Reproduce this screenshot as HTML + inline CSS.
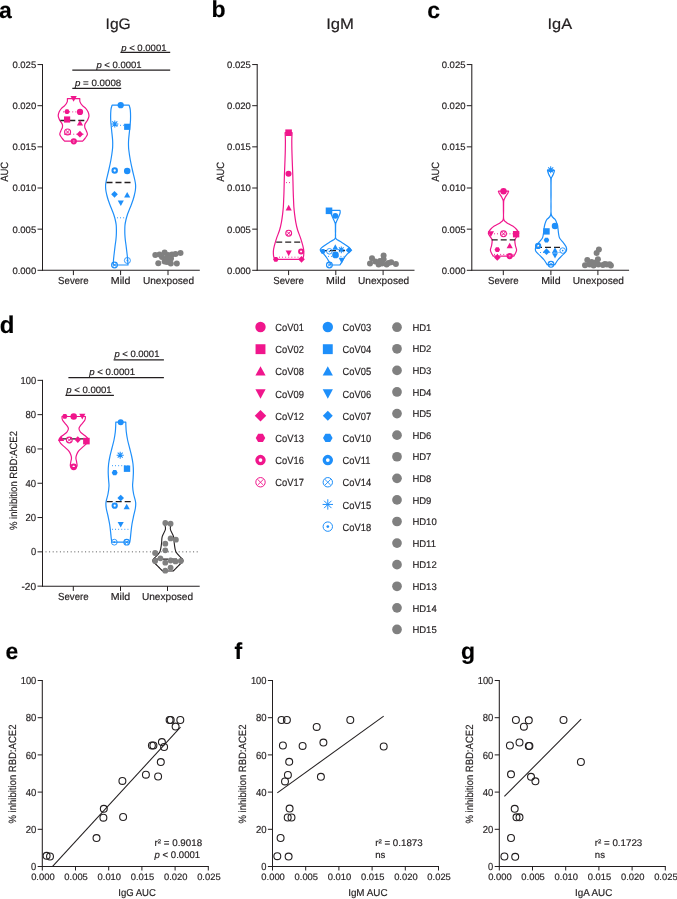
<!DOCTYPE html>
<html><head><meta charset="utf-8"><style>
html,body{margin:0;padding:0;background:#fff;}
body{width:677px;height:899px;overflow:hidden;}
svg{display:block;font-family:'Liberation Sans', sans-serif;text-rendering:geometricPrecision;will-change:transform;}
text{stroke:#231f20;stroke-width:0.18px;paint-order:stroke;}
</style></head><body>
<svg width="677" height="899" viewBox="0 0 677 899">
<rect width="677" height="899" fill="#fff"/>
<text x="-0.90" y="18.00" font-size="23" text-anchor="start" fill="#000" font-weight="bold" >a</text>
<text x="211.60" y="17.20" font-size="23" text-anchor="start" fill="#000" font-weight="bold" >b</text>
<text x="427.20" y="18.30" font-size="23" text-anchor="start" fill="#000" font-weight="bold" >c</text>
<text x="118.15" y="29.40" font-size="15.2" text-anchor="middle" fill="#231f20" textLength="25.20" lengthAdjust="spacingAndGlyphs" >IgG</text>
<text x="340.10" y="29.40" font-size="15.2" text-anchor="middle" fill="#231f20" textLength="27.80" lengthAdjust="spacingAndGlyphs" >IgM</text>
<text x="559.85" y="29.40" font-size="15.2" text-anchor="middle" fill="#231f20" textLength="24.60" lengthAdjust="spacingAndGlyphs" >IgA</text>
<line x1="42.50" y1="64.05" x2="42.50" y2="270.80" stroke="#231f20" stroke-width="1.05" stroke-linecap="butt"/>
<line x1="42.00" y1="270.30" x2="199.80" y2="270.30" stroke="#231f20" stroke-width="1.05" stroke-linecap="butt"/>
<line x1="37.50" y1="270.30" x2="42.50" y2="270.30" stroke="#231f20" stroke-width="1.0" stroke-linecap="butt"/>
<text x="36.20" y="273.70" font-size="9.4" text-anchor="end" fill="#231f20" textLength="23.80" lengthAdjust="spacingAndGlyphs" >0.000</text>
<line x1="37.50" y1="229.15" x2="42.50" y2="229.15" stroke="#231f20" stroke-width="1.0" stroke-linecap="butt"/>
<text x="36.20" y="232.55" font-size="9.4" text-anchor="end" fill="#231f20" textLength="23.80" lengthAdjust="spacingAndGlyphs" >0.005</text>
<line x1="37.50" y1="188.00" x2="42.50" y2="188.00" stroke="#231f20" stroke-width="1.0" stroke-linecap="butt"/>
<text x="36.20" y="191.40" font-size="9.4" text-anchor="end" fill="#231f20" textLength="23.80" lengthAdjust="spacingAndGlyphs" >0.010</text>
<line x1="37.50" y1="146.85" x2="42.50" y2="146.85" stroke="#231f20" stroke-width="1.0" stroke-linecap="butt"/>
<text x="36.20" y="150.25" font-size="9.4" text-anchor="end" fill="#231f20" textLength="23.80" lengthAdjust="spacingAndGlyphs" >0.015</text>
<line x1="37.50" y1="105.70" x2="42.50" y2="105.70" stroke="#231f20" stroke-width="1.0" stroke-linecap="butt"/>
<text x="36.20" y="109.10" font-size="9.4" text-anchor="end" fill="#231f20" textLength="23.80" lengthAdjust="spacingAndGlyphs" >0.020</text>
<line x1="37.50" y1="64.55" x2="42.50" y2="64.55" stroke="#231f20" stroke-width="1.0" stroke-linecap="butt"/>
<text x="36.20" y="67.95" font-size="9.4" text-anchor="end" fill="#231f20" textLength="23.80" lengthAdjust="spacingAndGlyphs" >0.025</text>
<line x1="73.40" y1="270.30" x2="73.40" y2="275.10" stroke="#231f20" stroke-width="1.0" stroke-linecap="butt"/>
<text x="73.40" y="284.10" font-size="10.2" text-anchor="middle" fill="#231f20" textLength="30.60" lengthAdjust="spacingAndGlyphs" >Severe</text>
<line x1="120.60" y1="270.30" x2="120.60" y2="275.10" stroke="#231f20" stroke-width="1.0" stroke-linecap="butt"/>
<text x="120.60" y="284.10" font-size="10.2" text-anchor="middle" fill="#231f20" textLength="19.50" lengthAdjust="spacingAndGlyphs" >Mild</text>
<line x1="168.00" y1="270.30" x2="168.00" y2="275.10" stroke="#231f20" stroke-width="1.0" stroke-linecap="butt"/>
<text x="168.50" y="284.10" font-size="10.2" text-anchor="middle" fill="#231f20" textLength="51.20" lengthAdjust="spacingAndGlyphs" >Unexposed</text>
<text x="8.50" y="171.80" font-size="10.5" text-anchor="middle" fill="#231f20" textLength="20.00" lengthAdjust="spacingAndGlyphs" transform="rotate(-90 8.50 171.80)" >AUC</text>
<line x1="257.20" y1="64.05" x2="257.20" y2="270.80" stroke="#231f20" stroke-width="1.05" stroke-linecap="butt"/>
<line x1="256.70" y1="270.30" x2="414.50" y2="270.30" stroke="#231f20" stroke-width="1.05" stroke-linecap="butt"/>
<line x1="252.20" y1="270.30" x2="257.20" y2="270.30" stroke="#231f20" stroke-width="1.0" stroke-linecap="butt"/>
<text x="250.90" y="273.70" font-size="9.4" text-anchor="end" fill="#231f20" textLength="23.80" lengthAdjust="spacingAndGlyphs" >0.000</text>
<line x1="252.20" y1="229.15" x2="257.20" y2="229.15" stroke="#231f20" stroke-width="1.0" stroke-linecap="butt"/>
<text x="250.90" y="232.55" font-size="9.4" text-anchor="end" fill="#231f20" textLength="23.80" lengthAdjust="spacingAndGlyphs" >0.005</text>
<line x1="252.20" y1="188.00" x2="257.20" y2="188.00" stroke="#231f20" stroke-width="1.0" stroke-linecap="butt"/>
<text x="250.90" y="191.40" font-size="9.4" text-anchor="end" fill="#231f20" textLength="23.80" lengthAdjust="spacingAndGlyphs" >0.010</text>
<line x1="252.20" y1="146.85" x2="257.20" y2="146.85" stroke="#231f20" stroke-width="1.0" stroke-linecap="butt"/>
<text x="250.90" y="150.25" font-size="9.4" text-anchor="end" fill="#231f20" textLength="23.80" lengthAdjust="spacingAndGlyphs" >0.015</text>
<line x1="252.20" y1="105.70" x2="257.20" y2="105.70" stroke="#231f20" stroke-width="1.0" stroke-linecap="butt"/>
<text x="250.90" y="109.10" font-size="9.4" text-anchor="end" fill="#231f20" textLength="23.80" lengthAdjust="spacingAndGlyphs" >0.020</text>
<line x1="252.20" y1="64.55" x2="257.20" y2="64.55" stroke="#231f20" stroke-width="1.0" stroke-linecap="butt"/>
<text x="250.90" y="67.95" font-size="9.4" text-anchor="end" fill="#231f20" textLength="23.80" lengthAdjust="spacingAndGlyphs" >0.025</text>
<line x1="288.60" y1="270.30" x2="288.60" y2="275.10" stroke="#231f20" stroke-width="1.0" stroke-linecap="butt"/>
<text x="288.60" y="284.10" font-size="10.2" text-anchor="middle" fill="#231f20" textLength="30.60" lengthAdjust="spacingAndGlyphs" >Severe</text>
<line x1="335.80" y1="270.30" x2="335.80" y2="275.10" stroke="#231f20" stroke-width="1.0" stroke-linecap="butt"/>
<text x="335.80" y="284.10" font-size="10.2" text-anchor="middle" fill="#231f20" textLength="19.50" lengthAdjust="spacingAndGlyphs" >Mild</text>
<line x1="383.10" y1="270.30" x2="383.10" y2="275.10" stroke="#231f20" stroke-width="1.0" stroke-linecap="butt"/>
<text x="383.60" y="284.10" font-size="10.2" text-anchor="middle" fill="#231f20" textLength="51.20" lengthAdjust="spacingAndGlyphs" >Unexposed</text>
<text x="223.70" y="171.80" font-size="10.5" text-anchor="middle" fill="#231f20" textLength="20.00" lengthAdjust="spacingAndGlyphs" transform="rotate(-90 223.70 171.80)" >AUC</text>
<line x1="471.80" y1="64.05" x2="471.80" y2="270.80" stroke="#231f20" stroke-width="1.05" stroke-linecap="butt"/>
<line x1="471.30" y1="270.30" x2="629.10" y2="270.30" stroke="#231f20" stroke-width="1.05" stroke-linecap="butt"/>
<line x1="466.80" y1="270.30" x2="471.80" y2="270.30" stroke="#231f20" stroke-width="1.0" stroke-linecap="butt"/>
<text x="465.50" y="273.70" font-size="9.4" text-anchor="end" fill="#231f20" textLength="23.80" lengthAdjust="spacingAndGlyphs" >0.000</text>
<line x1="466.80" y1="229.15" x2="471.80" y2="229.15" stroke="#231f20" stroke-width="1.0" stroke-linecap="butt"/>
<text x="465.50" y="232.55" font-size="9.4" text-anchor="end" fill="#231f20" textLength="23.80" lengthAdjust="spacingAndGlyphs" >0.005</text>
<line x1="466.80" y1="188.00" x2="471.80" y2="188.00" stroke="#231f20" stroke-width="1.0" stroke-linecap="butt"/>
<text x="465.50" y="191.40" font-size="9.4" text-anchor="end" fill="#231f20" textLength="23.80" lengthAdjust="spacingAndGlyphs" >0.010</text>
<line x1="466.80" y1="146.85" x2="471.80" y2="146.85" stroke="#231f20" stroke-width="1.0" stroke-linecap="butt"/>
<text x="465.50" y="150.25" font-size="9.4" text-anchor="end" fill="#231f20" textLength="23.80" lengthAdjust="spacingAndGlyphs" >0.015</text>
<line x1="466.80" y1="105.70" x2="471.80" y2="105.70" stroke="#231f20" stroke-width="1.0" stroke-linecap="butt"/>
<text x="465.50" y="109.10" font-size="9.4" text-anchor="end" fill="#231f20" textLength="23.80" lengthAdjust="spacingAndGlyphs" >0.020</text>
<line x1="466.80" y1="64.55" x2="471.80" y2="64.55" stroke="#231f20" stroke-width="1.0" stroke-linecap="butt"/>
<text x="465.50" y="67.95" font-size="9.4" text-anchor="end" fill="#231f20" textLength="23.80" lengthAdjust="spacingAndGlyphs" >0.025</text>
<line x1="503.30" y1="270.30" x2="503.30" y2="275.10" stroke="#231f20" stroke-width="1.0" stroke-linecap="butt"/>
<text x="503.30" y="284.10" font-size="10.2" text-anchor="middle" fill="#231f20" textLength="30.60" lengthAdjust="spacingAndGlyphs" >Severe</text>
<line x1="550.90" y1="270.30" x2="550.90" y2="275.10" stroke="#231f20" stroke-width="1.0" stroke-linecap="butt"/>
<text x="550.90" y="284.10" font-size="10.2" text-anchor="middle" fill="#231f20" textLength="19.50" lengthAdjust="spacingAndGlyphs" >Mild</text>
<line x1="597.90" y1="270.30" x2="597.90" y2="275.10" stroke="#231f20" stroke-width="1.0" stroke-linecap="butt"/>
<text x="598.40" y="284.10" font-size="10.2" text-anchor="middle" fill="#231f20" textLength="51.20" lengthAdjust="spacingAndGlyphs" >Unexposed</text>
<text x="438.80" y="171.80" font-size="10.5" text-anchor="middle" fill="#231f20" textLength="20.00" lengthAdjust="spacingAndGlyphs" transform="rotate(-90 438.80 171.80)" >AUC</text>
<line x1="120.40" y1="52.40" x2="170.20" y2="52.40" stroke="#231f20" stroke-width="1.2" stroke-linecap="butt"/>
<text x="121.20" y="50.50" font-size="9.3" fill="#231f20" textLength="45.30" lengthAdjust="spacingAndGlyphs"><tspan font-style="italic">p</tspan> &lt; 0.0001</text>
<line x1="72.30" y1="70.20" x2="170.20" y2="70.20" stroke="#231f20" stroke-width="1.2" stroke-linecap="butt"/>
<text x="96.40" y="67.90" font-size="9.3" fill="#231f20" textLength="45.20" lengthAdjust="spacingAndGlyphs"><tspan font-style="italic">p</tspan> &lt; 0.0001</text>
<line x1="72.30" y1="88.40" x2="121.20" y2="88.40" stroke="#231f20" stroke-width="1.2" stroke-linecap="butt"/>
<text x="75.00" y="85.75" font-size="9.3" fill="#231f20" textLength="46.20" lengthAdjust="spacingAndGlyphs"><tspan font-style="italic">p</tspan> = 0.0008</text>
<path d="M67.40 98.60L79.80 98.60C79.83 99.15 79.55 100.72 80.00 101.90C80.45 103.08 81.55 104.62 82.50 105.70C83.45 106.78 84.77 107.37 85.70 108.40C86.63 109.43 87.55 110.63 88.10 111.90C88.65 113.17 89.10 114.62 89.00 116.00C88.90 117.38 88.18 118.82 87.50 120.20C86.82 121.58 85.35 123.12 84.90 124.30C84.45 125.48 84.57 126.22 84.80 127.30C85.03 128.38 85.87 129.62 86.30 130.80C86.73 131.98 87.55 133.22 87.40 134.40C87.25 135.58 86.20 136.77 85.40 137.90C84.60 139.03 83.07 140.65 82.60 141.20L64.60 141.20C64.13 140.65 62.60 139.03 61.80 137.90C61.00 136.77 59.95 135.58 59.80 134.40C59.65 133.22 60.47 131.98 60.90 130.80C61.33 129.62 62.17 128.38 62.40 127.30C62.63 126.22 62.75 125.48 62.30 124.30C61.85 123.12 60.38 121.58 59.70 120.20C59.02 118.82 58.30 117.38 58.20 116.00C58.10 114.62 58.55 113.17 59.10 111.90C59.65 110.63 60.57 109.43 61.50 108.40C62.43 107.37 63.75 106.78 64.70 105.70C65.65 104.62 66.75 103.08 67.20 101.90C67.65 100.72 67.37 99.15 67.40 98.60Z" fill="none" stroke="#f0168c" stroke-width="1.2" stroke-linejoin="round"/>
<line x1="63.00" y1="111.90" x2="84.00" y2="111.90" stroke="#f0168c" stroke-width="1.0" stroke-dasharray="0.9 2.2" stroke-linecap="butt"/>
<line x1="64.00" y1="134.20" x2="84.00" y2="134.20" stroke="#f0168c" stroke-width="1.0" stroke-dasharray="0.9 2.2" stroke-linecap="butt"/>
<line x1="60.30" y1="120.50" x2="85.70" y2="120.50" stroke="#231f20" stroke-width="1.3" stroke-dasharray="6 3" stroke-linecap="butt"/>
<polygon points="73.60,101.81 76.78,95.98 70.42,95.98" fill="#f0168c"/>
<polygon points="64.32,111.70 65.66,109.37 68.34,109.37 69.68,111.70 68.34,114.03 65.66,114.03" fill="#f0168c"/>
<circle cx="80.00" cy="111.90" r="3.13" fill="#f0168c"/>
<rect x="64.02" y="116.42" width="6.16" height="6.16" fill="#f0168c"/>
<polygon points="80.00,119.90 83.07,125.54 76.93,125.54" fill="#f0168c"/>
<circle cx="67.60" cy="132.00" r="3.01" fill="none" stroke="#f0168c" stroke-width="1.10"/>
<path d="M65.73 130.13L69.47 133.87M69.47 130.13L65.73 133.87" stroke="#f0168c" stroke-width="0.99"/>
<polygon points="79.90,130.87 83.23,134.20 79.90,137.53 76.57,134.20" fill="#f0168c"/>
<circle cx="73.80" cy="141.30" r="2.13" fill="none" stroke="#f0168c" stroke-width="2.00"/>
<path d="M112.10 105.20L129.10 105.20C129.30 106.00 130.07 107.53 130.30 110.00C130.53 112.47 130.62 116.67 130.50 120.00C130.38 123.33 129.92 126.67 129.60 130.00C129.28 133.33 128.78 137.50 128.60 140.00C128.42 142.50 128.47 143.33 128.50 145.00C128.53 146.67 128.50 147.50 128.80 150.00C129.10 152.50 129.70 156.67 130.30 160.00C130.90 163.33 131.65 166.67 132.40 170.00C133.15 173.33 134.27 177.50 134.80 180.00C135.33 182.50 135.50 183.33 135.60 185.00C135.70 186.67 135.60 188.33 135.40 190.00C135.20 191.67 134.80 193.33 134.40 195.00C134.00 196.67 133.53 198.33 133.00 200.00C132.47 201.67 131.83 203.33 131.20 205.00C130.57 206.67 129.85 208.33 129.20 210.00C128.55 211.67 127.85 213.33 127.30 215.00C126.75 216.67 126.28 218.33 125.90 220.00C125.52 221.67 125.18 223.33 125.00 225.00C124.82 226.67 124.82 228.33 124.80 230.00C124.78 231.67 124.82 233.33 124.90 235.00C124.98 236.67 125.12 238.33 125.30 240.00C125.48 241.67 125.78 243.33 126.00 245.00C126.22 246.67 126.40 248.33 126.60 250.00C126.80 251.67 127.02 253.33 127.20 255.00C127.38 256.67 127.57 258.33 127.70 260.00C127.83 261.67 127.95 264.17 128.00 265.00L113.20 265.00C113.25 264.17 113.37 261.67 113.50 260.00C113.63 258.33 113.82 256.67 114.00 255.00C114.18 253.33 114.40 251.67 114.60 250.00C114.80 248.33 114.98 246.67 115.20 245.00C115.42 243.33 115.72 241.67 115.90 240.00C116.08 238.33 116.22 236.67 116.30 235.00C116.38 233.33 116.42 231.67 116.40 230.00C116.38 228.33 116.38 226.67 116.20 225.00C116.02 223.33 115.68 221.67 115.30 220.00C114.92 218.33 114.45 216.67 113.90 215.00C113.35 213.33 112.65 211.67 112.00 210.00C111.35 208.33 110.63 206.67 110.00 205.00C109.37 203.33 108.73 201.67 108.20 200.00C107.67 198.33 107.20 196.67 106.80 195.00C106.40 193.33 106.00 191.67 105.80 190.00C105.60 188.33 105.50 186.67 105.60 185.00C105.70 183.33 105.87 182.50 106.40 180.00C106.93 177.50 108.05 173.33 108.80 170.00C109.55 166.67 110.30 163.33 110.90 160.00C111.50 156.67 112.10 152.50 112.40 150.00C112.70 147.50 112.67 146.67 112.70 145.00C112.73 143.33 112.78 142.50 112.60 140.00C112.42 137.50 111.92 133.33 111.60 130.00C111.28 126.67 110.82 123.33 110.70 120.00C110.58 116.67 110.67 112.47 110.90 110.00C111.13 107.53 111.90 106.00 112.10 105.20Z" fill="none" stroke="#1e8ffa" stroke-width="1.2" stroke-linejoin="round"/>
<line x1="117.00" y1="125.30" x2="125.00" y2="125.30" stroke="#1e8ffa" stroke-width="1.0" stroke-dasharray="0.9 2.2" stroke-linecap="butt"/>
<line x1="117.00" y1="217.80" x2="126.00" y2="217.80" stroke="#1e8ffa" stroke-width="1.0" stroke-dasharray="0.9 2.2" stroke-linecap="butt"/>
<line x1="106.50" y1="182.50" x2="132.50" y2="182.50" stroke="#231f20" stroke-width="1.3" stroke-dasharray="6 3" stroke-linecap="butt"/>
<circle cx="120.70" cy="105.20" r="3.13" fill="#1e8ffa"/>
<path d="M111.24 124.00L118.36 124.00M112.28 121.48L117.32 126.52M114.80 120.44L114.80 127.56M117.32 121.48L112.28 126.52" stroke="#1e8ffa" stroke-width="1.05"/>
<rect x="124.12" y="123.72" width="6.16" height="6.16" fill="#1e8ffa"/>
<circle cx="114.70" cy="170.50" r="2.20" fill="none" stroke="#1e8ffa" stroke-width="2.07"/>
<circle cx="127.20" cy="171.00" r="3.24" fill="#1e8ffa"/>
<polygon points="114.50,190.97 117.83,194.30 114.50,197.63 111.17,194.30" fill="#1e8ffa"/>
<polygon points="127.20,191.90 130.27,197.54 124.13,197.54" fill="#1e8ffa"/>
<polygon points="120.80,206.10 123.87,200.46 117.73,200.46" fill="#1e8ffa"/>
<circle cx="114.50" cy="265.00" r="2.91" fill="none" stroke="#1e8ffa" stroke-width="1.10"/>
<path d="M112.70 263.20L116.30 266.80M116.30 263.20L112.70 266.80" stroke="#1e8ffa" stroke-width="0.99"/>
<circle cx="127.40" cy="260.50" r="3.01" fill="none" stroke="#1e8ffa" stroke-width="0.90"/>
<circle cx="127.40" cy="260.50" r="0.90" fill="#1e8ffa"/>
<circle cx="155.30" cy="255.00" r="3.00" fill="#808080"/>
<circle cx="159.50" cy="254.50" r="3.00" fill="#808080"/>
<circle cx="164.60" cy="252.50" r="3.00" fill="#808080"/>
<circle cx="168.00" cy="255.00" r="3.00" fill="#808080"/>
<circle cx="172.00" cy="254.50" r="3.00" fill="#808080"/>
<circle cx="175.50" cy="254.00" r="3.00" fill="#808080"/>
<circle cx="180.50" cy="253.00" r="3.00" fill="#808080"/>
<circle cx="162.00" cy="257.00" r="3.00" fill="#808080"/>
<circle cx="167.00" cy="258.00" r="3.00" fill="#808080"/>
<circle cx="171.00" cy="258.50" r="3.00" fill="#808080"/>
<circle cx="158.30" cy="263.30" r="3.00" fill="#808080"/>
<circle cx="164.60" cy="261.50" r="3.00" fill="#808080"/>
<circle cx="170.80" cy="263.50" r="3.00" fill="#808080"/>
<circle cx="176.80" cy="263.50" r="3.00" fill="#808080"/>
<circle cx="167.00" cy="262.00" r="3.00" fill="#808080"/>
<path d="M285.10 132.70L292.10 132.70C292.05 133.92 291.83 137.12 291.80 140.00C291.77 142.88 291.83 146.67 291.90 150.00C291.97 153.33 292.05 155.73 292.20 160.00C292.35 164.27 292.63 170.40 292.80 175.60C292.97 180.80 293.08 187.30 293.20 191.20C293.32 195.10 293.39 196.40 293.50 199.00C293.61 201.60 293.66 204.20 293.85 206.80C294.04 209.40 294.33 212.02 294.65 214.60C294.98 217.18 295.31 219.73 295.80 222.30C296.29 224.87 296.82 227.40 297.60 230.00C298.38 232.60 299.63 235.28 300.50 237.90C301.37 240.52 302.25 243.50 302.80 245.70C303.35 247.90 303.72 249.15 303.80 251.10C303.88 253.05 303.67 256.03 303.30 257.40C302.93 258.77 301.88 258.98 301.60 259.30L275.60 259.30C275.32 258.98 274.27 258.77 273.90 257.40C273.53 256.03 273.32 253.05 273.40 251.10C273.48 249.15 273.85 247.90 274.40 245.70C274.95 243.50 275.83 240.52 276.70 237.90C277.57 235.28 278.82 232.60 279.60 230.00C280.38 227.40 280.91 224.87 281.40 222.30C281.89 219.73 282.23 217.18 282.55 214.60C282.88 212.02 283.16 209.40 283.35 206.80C283.54 204.20 283.59 201.60 283.70 199.00C283.81 196.40 283.88 195.10 284.00 191.20C284.12 187.30 284.23 180.80 284.40 175.60C284.57 170.40 284.85 164.27 285.00 160.00C285.15 155.73 285.23 153.33 285.30 150.00C285.37 146.67 285.43 142.88 285.40 140.00C285.37 137.12 285.15 133.92 285.10 132.70Z" fill="none" stroke="#f0168c" stroke-width="1.2" stroke-linejoin="round"/>
<line x1="286.00" y1="182.60" x2="292.00" y2="182.60" stroke="#f0168c" stroke-width="1.0" stroke-dasharray="0.9 2.2" stroke-linecap="butt"/>
<line x1="279.00" y1="257.20" x2="299.00" y2="257.20" stroke="#f0168c" stroke-width="1.0" stroke-dasharray="0.9 2.2" stroke-linecap="butt"/>
<line x1="276.20" y1="242.20" x2="301.10" y2="242.20" stroke="#231f20" stroke-width="1.3" stroke-dasharray="6 3" stroke-linecap="butt"/>
<rect x="285.32" y="129.42" width="6.57" height="6.57" fill="#f0168c"/>
<circle cx="288.50" cy="173.80" r="3.02" fill="#f0168c"/>
<polygon points="288.70,204.80 291.77,210.44 285.63,210.44" fill="#f0168c"/>
<circle cx="288.70" cy="233.20" r="2.91" fill="none" stroke="#f0168c" stroke-width="1.10"/>
<path d="M286.90 231.40L290.50 235.00M290.50 231.40L286.90 235.00" stroke="#f0168c" stroke-width="0.99"/>
<polygon points="288.70,256.20 291.77,250.56 285.63,250.56" fill="#f0168c"/>
<circle cx="301.10" cy="251.50" r="2.06" fill="none" stroke="#f0168c" stroke-width="1.94"/>
<polygon points="273.02,259.30 274.41,256.88 277.19,256.88 278.58,259.30 277.19,261.72 274.41,261.72" fill="#f0168c"/>
<polygon points="301.50,255.97 304.83,259.30 301.50,262.63 298.17,259.30" fill="#f0168c"/>
<path d="M331.00 210.40L340.00 210.40C340.02 210.83 340.37 211.85 340.10 213.00C339.83 214.15 339.00 215.87 338.40 217.30C337.80 218.73 336.95 220.48 336.50 221.60C336.05 222.72 335.85 222.43 335.70 224.00C335.55 225.57 335.59 228.62 335.60 231.00C335.61 233.38 335.03 236.60 335.75 238.30C336.47 240.00 338.38 240.18 339.90 241.20C341.42 242.22 343.33 243.32 344.90 244.40C346.47 245.48 348.33 246.73 349.30 247.70C350.27 248.67 351.07 249.12 350.70 250.20C350.33 251.28 348.25 252.82 347.10 254.20C345.95 255.58 344.77 257.05 343.80 258.50C342.83 259.95 341.95 261.82 341.30 262.90C340.65 263.98 340.13 264.65 339.90 265.00L331.10 265.00C330.87 264.65 330.35 263.98 329.70 262.90C329.05 261.82 328.17 259.95 327.20 258.50C326.23 257.05 325.05 255.58 323.90 254.20C322.75 252.82 320.67 251.28 320.30 250.20C319.93 249.12 320.73 248.67 321.70 247.70C322.67 246.73 324.53 245.48 326.10 244.40C327.67 243.32 329.58 242.22 331.10 241.20C332.62 240.18 334.53 240.00 335.25 238.30C335.97 236.60 335.39 233.38 335.40 231.00C335.41 228.62 335.45 225.57 335.30 224.00C335.15 222.43 334.95 222.72 334.50 221.60C334.05 220.48 333.20 218.73 332.60 217.30C332.00 215.87 331.17 214.15 330.90 213.00C330.63 211.85 330.98 210.83 331.00 210.40Z" fill="none" stroke="#1e8ffa" stroke-width="1.2" stroke-linejoin="round"/>
<line x1="325.00" y1="256.40" x2="346.00" y2="256.40" stroke="#1e8ffa" stroke-width="1.0" stroke-dasharray="0.9 2.2" stroke-linecap="butt"/>
<line x1="321.00" y1="250.60" x2="349.00" y2="250.60" stroke="#231f20" stroke-width="1.3" stroke-dasharray="6 3" stroke-linecap="butt"/>
<rect x="325.72" y="207.52" width="6.57" height="6.57" fill="#1e8ffa"/>
<circle cx="335.30" cy="215.80" r="2.92" fill="#1e8ffa"/>
<polygon points="320.22,251.30 321.56,248.97 324.24,248.97 325.58,251.30 324.24,253.63 321.56,253.63" fill="#1e8ffa"/>
<circle cx="329.40" cy="251.30" r="2.79" fill="none" stroke="#1e8ffa" stroke-width="0.90"/>
<circle cx="329.40" cy="251.30" r="0.84" fill="#1e8ffa"/>
<polygon points="335.30,244.31 338.26,249.75 332.34,249.75" fill="#1e8ffa"/>
<path d="M337.97 249.80L344.63 249.80M338.95 247.45L343.65 252.15M341.30 246.47L341.30 253.13M343.65 247.45L338.95 252.15" stroke="#1e8ffa" stroke-width="1.05"/>
<polygon points="349.00,246.87 352.33,250.20 349.00,253.53 345.67,250.20" fill="#1e8ffa"/>
<circle cx="335.50" cy="254.90" r="3.35" fill="#1e8ffa"/>
<polygon points="341.70,263.40 344.77,257.76 338.63,257.76" fill="#1e8ffa"/>
<circle cx="329.40" cy="265.00" r="2.91" fill="none" stroke="#1e8ffa" stroke-width="1.10"/>
<path d="M327.60 263.20L331.20 266.80M331.20 263.20L327.60 266.80" stroke="#1e8ffa" stroke-width="0.99"/>
<circle cx="372.00" cy="258.30" r="3.00" fill="#808080"/>
<circle cx="383.60" cy="255.60" r="3.00" fill="#808080"/>
<circle cx="383.60" cy="259.30" r="3.00" fill="#808080"/>
<circle cx="370.00" cy="263.60" r="3.00" fill="#808080"/>
<circle cx="375.30" cy="261.60" r="3.00" fill="#808080"/>
<circle cx="378.60" cy="264.60" r="3.00" fill="#808080"/>
<circle cx="382.00" cy="263.60" r="3.00" fill="#808080"/>
<circle cx="386.60" cy="264.60" r="3.00" fill="#808080"/>
<circle cx="391.20" cy="262.30" r="3.00" fill="#808080"/>
<circle cx="395.90" cy="264.00" r="3.00" fill="#808080"/>
<circle cx="380.00" cy="261.00" r="3.00" fill="#808080"/>
<circle cx="388.50" cy="263.00" r="3.00" fill="#808080"/>
<path d="M498.40 191.20L508.60 191.20C508.45 191.58 508.15 192.68 507.70 193.50C507.25 194.32 506.43 195.22 505.90 196.10C505.37 196.98 504.87 197.93 504.50 198.80C504.13 199.67 503.85 199.43 503.70 201.30C503.55 203.17 503.59 207.00 503.60 210.00C503.61 213.00 503.23 217.18 503.75 219.30C504.27 221.42 505.21 221.57 506.70 222.70C508.19 223.83 511.05 224.97 512.70 226.10C514.35 227.23 515.60 228.35 516.60 229.50C517.60 230.65 518.63 231.85 518.70 233.00C518.77 234.15 517.63 235.27 517.00 236.40C516.37 237.53 515.18 238.37 514.90 239.80C514.62 241.23 515.02 243.28 515.30 245.00C515.58 246.72 516.60 248.68 516.60 250.10C516.60 251.52 515.77 252.50 515.30 253.50C514.83 254.50 514.05 255.67 513.80 256.10L493.20 256.10C492.95 255.67 492.17 254.50 491.70 253.50C491.23 252.50 490.40 251.52 490.40 250.10C490.40 248.68 491.42 246.72 491.70 245.00C491.98 243.28 492.38 241.23 492.10 239.80C491.82 238.37 490.63 237.53 490.00 236.40C489.37 235.27 488.23 234.15 488.30 233.00C488.37 231.85 489.40 230.65 490.40 229.50C491.40 228.35 492.65 227.23 494.30 226.10C495.95 224.97 498.81 223.83 500.30 222.70C501.79 221.57 502.73 221.42 503.25 219.30C503.77 217.18 503.39 213.00 503.40 210.00C503.41 207.00 503.45 203.17 503.30 201.30C503.15 199.43 502.87 199.67 502.50 198.80C502.13 197.93 501.63 196.98 501.10 196.10C500.57 195.22 499.75 194.32 499.30 193.50C498.85 192.68 498.55 191.58 498.40 191.20Z" fill="none" stroke="#f0168c" stroke-width="1.2" stroke-linejoin="round"/>
<line x1="494.00" y1="233.80" x2="514.00" y2="233.80" stroke="#f0168c" stroke-width="1.0" stroke-dasharray="0.9 2.2" stroke-linecap="butt"/>
<line x1="494.00" y1="254.40" x2="514.00" y2="254.40" stroke="#f0168c" stroke-width="1.0" stroke-dasharray="0.9 2.2" stroke-linecap="butt"/>
<line x1="491.70" y1="239.80" x2="515.30" y2="239.80" stroke="#231f20" stroke-width="1.3" stroke-dasharray="6 3" stroke-linecap="butt"/>
<circle cx="503.50" cy="191.20" r="3.24" fill="#f0168c"/>
<polygon points="490.90,236.90 493.97,231.26 487.83,231.26" fill="#f0168c"/>
<circle cx="503.50" cy="233.80" r="2.91" fill="none" stroke="#f0168c" stroke-width="1.10"/>
<path d="M501.70 232.00L505.30 235.60M505.30 232.00L501.70 235.60" stroke="#f0168c" stroke-width="0.99"/>
<rect x="512.92" y="231.02" width="6.36" height="6.36" fill="#f0168c"/>
<polygon points="509.70,242.70 512.77,248.34 506.63,248.34" fill="#f0168c"/>
<polygon points="494.52,249.70 495.91,247.28 498.69,247.28 500.08,249.70 498.69,252.12 495.91,252.12" fill="#f0168c"/>
<circle cx="509.70" cy="256.10" r="2.13" fill="none" stroke="#f0168c" stroke-width="2.00"/>
<polygon points="497.30,254.07 500.63,257.40 497.30,260.73 493.97,257.40" fill="#f0168c"/>
<path d="M547.50 170.50L554.50 170.50C554.35 171.00 553.98 172.50 553.60 173.50C553.22 174.50 552.60 175.52 552.20 176.50C551.80 177.48 551.38 176.32 551.20 179.40C551.02 182.48 551.09 189.17 551.10 195.00C551.11 200.83 550.57 210.32 551.25 214.40C551.93 218.48 554.24 217.93 555.20 219.50C556.16 221.07 556.55 222.37 557.00 223.80C557.45 225.23 557.63 226.42 557.90 228.10C558.17 229.78 558.30 232.20 558.60 233.90C558.90 235.60 558.92 236.85 559.70 238.30C560.48 239.75 562.22 241.15 563.30 242.60C564.38 244.05 565.72 245.55 566.20 247.00C566.68 248.45 566.90 249.87 566.20 251.30C565.50 252.73 563.40 254.15 562.00 255.60C560.60 257.05 558.98 258.48 557.80 260.00C556.62 261.52 555.38 263.92 554.90 264.70L547.10 264.70C546.62 263.92 545.38 261.52 544.20 260.00C543.02 258.48 541.40 257.05 540.00 255.60C538.60 254.15 536.50 252.73 535.80 251.30C535.10 249.87 535.32 248.45 535.80 247.00C536.28 245.55 537.62 244.05 538.70 242.60C539.78 241.15 541.52 239.75 542.30 238.30C543.08 236.85 543.10 235.60 543.40 233.90C543.70 232.20 543.83 229.78 544.10 228.10C544.37 226.42 544.55 225.23 545.00 223.80C545.45 222.37 545.84 221.07 546.80 219.50C547.76 217.93 550.07 218.48 550.75 214.40C551.43 210.32 550.89 200.83 550.90 195.00C550.91 189.17 550.98 182.48 550.80 179.40C550.62 176.32 550.20 177.48 549.80 176.50C549.40 175.52 548.78 174.50 548.40 173.50C548.02 172.50 547.65 171.00 547.50 170.50Z" fill="none" stroke="#1e8ffa" stroke-width="1.2" stroke-linejoin="round"/>
<line x1="536.00" y1="247.30" x2="563.00" y2="247.30" stroke="#231f20" stroke-width="1.3" stroke-dasharray="6 3" stroke-linecap="butt"/>
<line x1="540.00" y1="252.50" x2="562.00" y2="252.50" stroke="#1e8ffa" stroke-width="1.0" stroke-dasharray="0.9 2.2" stroke-linecap="butt"/>
<path d="M547.14 169.80L554.26 169.80M548.18 167.28L553.22 172.32M550.70 166.24L550.70 173.36M553.22 167.28L548.18 172.32" stroke="#1e8ffa" stroke-width="1.05"/>
<circle cx="555.00" cy="226.00" r="3.24" fill="#1e8ffa"/>
<rect x="543.32" y="228.22" width="6.36" height="6.36" fill="#1e8ffa"/>
<polygon points="543.72,240.10 545.11,237.68 547.89,237.68 549.28,240.10 547.89,242.52 545.11,242.52" fill="#1e8ffa"/>
<circle cx="538.10" cy="245.90" r="2.13" fill="none" stroke="#1e8ffa" stroke-width="2.00"/>
<polygon points="546.50,248.37 549.83,251.70 546.50,255.03 543.17,251.70" fill="#1e8ffa"/>
<polygon points="555.00,247.31 557.96,252.75 552.04,252.75" fill="#1e8ffa"/>
<polygon points="555.00,258.59 557.96,253.15 552.04,253.15" fill="#1e8ffa"/>
<circle cx="562.70" cy="250.60" r="2.79" fill="none" stroke="#1e8ffa" stroke-width="0.90"/>
<circle cx="562.70" cy="250.60" r="0.84" fill="#1e8ffa"/>
<circle cx="551.00" cy="264.30" r="2.91" fill="none" stroke="#1e8ffa" stroke-width="1.10"/>
<path d="M549.20 262.50L552.80 266.10M552.80 262.50L549.20 266.10" stroke="#1e8ffa" stroke-width="0.99"/>
<circle cx="598.90" cy="249.60" r="3.00" fill="#808080"/>
<circle cx="596.60" cy="253.00" r="3.00" fill="#808080"/>
<circle cx="597.90" cy="259.30" r="3.00" fill="#808080"/>
<circle cx="587.30" cy="260.00" r="3.00" fill="#808080"/>
<circle cx="585.00" cy="265.30" r="3.00" fill="#808080"/>
<circle cx="589.60" cy="264.60" r="3.00" fill="#808080"/>
<circle cx="593.60" cy="265.60" r="3.00" fill="#808080"/>
<circle cx="598.30" cy="264.60" r="3.00" fill="#808080"/>
<circle cx="602.90" cy="264.90" r="3.00" fill="#808080"/>
<circle cx="606.90" cy="264.60" r="3.00" fill="#808080"/>
<circle cx="610.90" cy="265.60" r="3.00" fill="#808080"/>
<circle cx="595.60" cy="262.60" r="3.00" fill="#808080"/>
<circle cx="591.60" cy="262.00" r="3.00" fill="#808080"/>
<circle cx="604.90" cy="264.00" r="3.00" fill="#808080"/>
<circle cx="609.60" cy="264.30" r="3.00" fill="#808080"/>
<text x="-0.20" y="333.00" font-size="24" text-anchor="start" fill="#000" font-weight="bold" >d</text>
<line x1="42.50" y1="379.85" x2="42.50" y2="586.65" stroke="#231f20" stroke-width="1.05" stroke-linecap="butt"/>
<line x1="42.00" y1="586.15" x2="199.70" y2="586.15" stroke="#231f20" stroke-width="1.05" stroke-linecap="butt"/>
<line x1="37.50" y1="380.35" x2="42.50" y2="380.35" stroke="#231f20" stroke-width="1.0" stroke-linecap="butt"/>
<text x="36.10" y="383.95" font-size="10.2" text-anchor="end" fill="#231f20" textLength="15.60" lengthAdjust="spacingAndGlyphs" >100</text>
<line x1="37.50" y1="414.65" x2="42.50" y2="414.65" stroke="#231f20" stroke-width="1.0" stroke-linecap="butt"/>
<text x="36.10" y="418.25" font-size="10.2" text-anchor="end" fill="#231f20" textLength="10.60" lengthAdjust="spacingAndGlyphs" >80</text>
<line x1="37.50" y1="448.95" x2="42.50" y2="448.95" stroke="#231f20" stroke-width="1.0" stroke-linecap="butt"/>
<text x="36.10" y="452.55" font-size="10.2" text-anchor="end" fill="#231f20" textLength="10.60" lengthAdjust="spacingAndGlyphs" >60</text>
<line x1="37.50" y1="483.25" x2="42.50" y2="483.25" stroke="#231f20" stroke-width="1.0" stroke-linecap="butt"/>
<text x="36.10" y="486.85" font-size="10.2" text-anchor="end" fill="#231f20" textLength="10.60" lengthAdjust="spacingAndGlyphs" >40</text>
<line x1="37.50" y1="517.55" x2="42.50" y2="517.55" stroke="#231f20" stroke-width="1.0" stroke-linecap="butt"/>
<text x="36.10" y="521.15" font-size="10.2" text-anchor="end" fill="#231f20" textLength="10.60" lengthAdjust="spacingAndGlyphs" >20</text>
<line x1="37.50" y1="551.85" x2="42.50" y2="551.85" stroke="#231f20" stroke-width="1.0" stroke-linecap="butt"/>
<text x="36.10" y="555.45" font-size="10.2" text-anchor="end" fill="#231f20" textLength="5.20" lengthAdjust="spacingAndGlyphs" >0</text>
<line x1="37.50" y1="586.15" x2="42.50" y2="586.15" stroke="#231f20" stroke-width="1.0" stroke-linecap="butt"/>
<text x="36.10" y="589.75" font-size="10.2" text-anchor="end" fill="#231f20" textLength="14.60" lengthAdjust="spacingAndGlyphs" >-20</text>
<line x1="45.50" y1="551.85" x2="198.00" y2="551.85" stroke="#555" stroke-width="1.0" stroke-dasharray="1 2.6" stroke-linecap="butt"/>
<line x1="73.30" y1="586.15" x2="73.30" y2="590.95" stroke="#231f20" stroke-width="1.0" stroke-linecap="butt"/>
<text x="73.30" y="599.50" font-size="10.2" text-anchor="middle" fill="#231f20" textLength="30.60" lengthAdjust="spacingAndGlyphs" >Severe</text>
<line x1="120.50" y1="586.15" x2="120.50" y2="590.95" stroke="#231f20" stroke-width="1.0" stroke-linecap="butt"/>
<text x="120.50" y="599.50" font-size="10.2" text-anchor="middle" fill="#231f20" textLength="19.50" lengthAdjust="spacingAndGlyphs" >Mild</text>
<line x1="167.50" y1="586.15" x2="167.50" y2="590.95" stroke="#231f20" stroke-width="1.0" stroke-linecap="butt"/>
<text x="167.50" y="599.50" font-size="10.2" text-anchor="middle" fill="#231f20" textLength="51.20" lengthAdjust="spacingAndGlyphs" >Unexposed</text>
<text x="16.90" y="480.50" font-size="10.5" text-anchor="middle" fill="#231f20" textLength="99.00" lengthAdjust="spacingAndGlyphs" transform="rotate(-90 16.90 480.50)" >% inhibition RBD:ACE2</text>
<line x1="113.60" y1="359.90" x2="163.90" y2="359.90" stroke="#231f20" stroke-width="1.2" stroke-linecap="butt"/>
<text x="114.40" y="357.40" font-size="9.3" fill="#231f20" textLength="45.00" lengthAdjust="spacingAndGlyphs"><tspan font-style="italic">p</tspan> &lt; 0.0001</text>
<line x1="68.40" y1="377.70" x2="163.90" y2="377.70" stroke="#231f20" stroke-width="1.2" stroke-linecap="butt"/>
<text x="89.20" y="374.80" font-size="9.3" fill="#231f20" textLength="45.90" lengthAdjust="spacingAndGlyphs"><tspan font-style="italic">p</tspan> &lt; 0.0001</text>
<line x1="65.40" y1="395.40" x2="113.90" y2="395.40" stroke="#231f20" stroke-width="1.2" stroke-linecap="butt"/>
<text x="66.20" y="392.70" font-size="9.3" fill="#231f20" textLength="45.50" lengthAdjust="spacingAndGlyphs"><tspan font-style="italic">p</tspan> &lt; 0.0001</text>
<path d="M62.00 416.50L85.40 416.50C85.32 417.08 85.60 418.63 84.90 420.00C84.20 421.37 82.18 423.30 81.20 424.70C80.22 426.10 79.12 427.17 79.00 428.40C78.88 429.63 79.48 430.87 80.50 432.10C81.52 433.33 83.78 434.57 85.10 435.80C86.42 437.03 88.10 438.27 88.40 439.50C88.70 440.73 87.82 441.97 86.90 443.20C85.98 444.43 84.23 445.65 82.90 446.90C81.57 448.15 79.93 449.45 78.90 450.70C77.87 451.95 77.20 453.17 76.70 454.40C76.20 455.63 75.92 456.87 75.90 458.10C75.88 459.33 76.40 460.57 76.60 461.80C76.80 463.03 77.15 464.55 77.10 465.50C77.05 466.45 76.43 467.17 76.30 467.50L71.10 467.50C70.97 467.17 70.35 466.45 70.30 465.50C70.25 464.55 70.60 463.03 70.80 461.80C71.00 460.57 71.52 459.33 71.50 458.10C71.48 456.87 71.20 455.63 70.70 454.40C70.20 453.17 69.53 451.95 68.50 450.70C67.47 449.45 65.83 448.15 64.50 446.90C63.17 445.65 61.42 444.43 60.50 443.20C59.58 441.97 58.70 440.73 59.00 439.50C59.30 438.27 60.98 437.03 62.30 435.80C63.62 434.57 65.88 433.33 66.90 432.10C67.92 430.87 68.52 429.63 68.40 428.40C68.28 427.17 67.18 426.10 66.20 424.70C65.22 423.30 63.20 421.37 62.50 420.00C61.80 418.63 62.08 417.08 62.00 416.50Z" fill="none" stroke="#f0168c" stroke-width="1.2" stroke-linejoin="round"/>
<line x1="61.00" y1="438.90" x2="87.00" y2="438.90" stroke="#231f20" stroke-width="1.3" stroke-dasharray="6 3" stroke-linecap="butt"/>
<polygon points="62.02,416.30 63.41,413.88 66.19,413.88 67.58,416.30 66.19,418.72 63.41,418.72" fill="#f0168c"/>
<circle cx="73.70" cy="416.50" r="3.24" fill="#f0168c"/>
<polygon points="82.30,419.40 85.37,413.76 79.23,413.76" fill="#f0168c"/>
<polygon points="61.10,435.40 64.17,441.04 58.03,441.04" fill="#f0168c"/>
<circle cx="69.30" cy="440.00" r="2.91" fill="none" stroke="#f0168c" stroke-width="1.10"/>
<path d="M67.50 438.20L71.10 441.80M71.10 438.20L67.50 441.80" stroke="#f0168c" stroke-width="0.99"/>
<polygon points="77.80,436.27 81.13,439.60 77.80,442.93 74.47,439.60" fill="#f0168c"/>
<rect x="83.12" y="437.82" width="6.57" height="6.57" fill="#f0168c"/>
<circle cx="73.70" cy="466.80" r="2.28" fill="none" stroke="#f0168c" stroke-width="2.14"/>
<path d="M115.80 422.20L125.80 422.20C125.82 422.83 125.82 424.37 125.90 426.00C125.98 427.63 126.02 429.67 126.30 432.00C126.58 434.33 127.05 437.33 127.60 440.00C128.15 442.67 128.93 445.33 129.60 448.00C130.27 450.67 131.03 453.33 131.60 456.00C132.17 458.67 132.70 461.33 133.00 464.00C133.30 466.67 133.40 469.33 133.40 472.00C133.40 474.67 133.13 477.67 133.00 480.00C132.87 482.33 132.50 483.67 132.60 486.00C132.70 488.33 133.10 491.33 133.60 494.00C134.10 496.67 135.30 499.67 135.60 502.00C135.90 504.33 135.73 505.67 135.40 508.00C135.07 510.33 134.17 513.33 133.60 516.00C133.03 518.67 132.43 521.33 132.00 524.00C131.57 526.67 131.27 529.67 131.00 532.00C130.73 534.33 130.60 536.30 130.40 538.00C130.20 539.70 129.90 541.50 129.80 542.20L111.80 542.20C111.70 541.50 111.40 539.70 111.20 538.00C111.00 536.30 110.87 534.33 110.60 532.00C110.33 529.67 110.03 526.67 109.60 524.00C109.17 521.33 108.57 518.67 108.00 516.00C107.43 513.33 106.53 510.33 106.20 508.00C105.87 505.67 105.70 504.33 106.00 502.00C106.30 499.67 107.50 496.67 108.00 494.00C108.50 491.33 108.90 488.33 109.00 486.00C109.10 483.67 108.73 482.33 108.60 480.00C108.47 477.67 108.20 474.67 108.20 472.00C108.20 469.33 108.30 466.67 108.60 464.00C108.90 461.33 109.43 458.67 110.00 456.00C110.57 453.33 111.33 450.67 112.00 448.00C112.67 445.33 113.45 442.67 114.00 440.00C114.55 437.33 115.02 434.33 115.30 432.00C115.58 429.67 115.62 427.63 115.70 426.00C115.78 424.37 115.78 422.83 115.80 422.20Z" fill="none" stroke="#1e8ffa" stroke-width="1.2" stroke-linejoin="round"/>
<line x1="112.00" y1="465.70" x2="130.00" y2="465.70" stroke="#1e8ffa" stroke-width="1.0" stroke-dasharray="0.9 2.2" stroke-linecap="butt"/>
<line x1="112.00" y1="529.30" x2="130.00" y2="529.30" stroke="#1e8ffa" stroke-width="1.0" stroke-dasharray="0.9 2.2" stroke-linecap="butt"/>
<line x1="106.70" y1="501.70" x2="131.80" y2="501.70" stroke="#231f20" stroke-width="1.3" stroke-dasharray="6 3" stroke-linecap="butt"/>
<circle cx="120.70" cy="422.20" r="3.02" fill="#1e8ffa"/>
<path d="M116.64 455.20L123.76 455.20M117.68 452.68L122.72 457.72M120.20 451.64L120.20 458.76M122.72 452.68L117.68 457.72" stroke="#1e8ffa" stroke-width="1.05"/>
<rect x="123.82" y="465.52" width="6.36" height="6.36" fill="#1e8ffa"/>
<polygon points="111.72,472.70 113.21,470.11 116.19,470.11 117.68,472.70 116.19,475.29 113.21,475.29" fill="#1e8ffa"/>
<polygon points="120.70,494.67 124.03,498.00 120.70,501.33 117.37,498.00" fill="#1e8ffa"/>
<circle cx="114.70" cy="505.70" r="2.13" fill="none" stroke="#1e8ffa" stroke-width="2.00"/>
<polygon points="126.70,503.70 129.77,509.34 123.63,509.34" fill="#1e8ffa"/>
<polygon points="120.70,527.60 123.77,521.96 117.63,521.96" fill="#1e8ffa"/>
<circle cx="114.30" cy="542.20" r="2.90" fill="none" stroke="#1e8ffa" stroke-width="0.90"/>
<circle cx="114.30" cy="542.20" r="0.87" fill="#1e8ffa"/>
<circle cx="126.70" cy="542.20" r="2.80" fill="none" stroke="#1e8ffa" stroke-width="1.10"/>
<path d="M124.97 540.47L128.43 543.93M128.43 540.47L124.97 543.93" stroke="#1e8ffa" stroke-width="0.99"/>
<path d="M164.30 523.70L171.50 523.70C171.30 524.58 169.95 526.85 170.30 529.00C170.65 531.15 172.93 534.15 173.60 536.60C174.27 539.05 173.92 541.18 174.30 543.70C174.68 546.22 174.75 549.33 175.90 551.70C177.05 554.07 180.00 556.35 181.20 557.90C182.40 559.45 183.27 559.98 183.10 561.00C182.93 562.02 181.27 562.92 180.20 564.00C179.13 565.08 177.87 566.33 176.70 567.50C175.53 568.67 173.78 570.42 173.20 571.00L162.60 571.00C162.02 570.42 160.27 568.67 159.10 567.50C157.93 566.33 156.67 565.08 155.60 564.00C154.53 562.92 152.87 562.02 152.70 561.00C152.53 559.98 153.40 559.45 154.60 557.90C155.80 556.35 158.75 554.07 159.90 551.70C161.05 549.33 161.12 546.22 161.50 543.70C161.88 541.18 161.53 539.05 162.20 536.60C162.87 534.15 165.15 531.15 165.50 529.00C165.85 526.85 164.50 524.58 164.30 523.70Z" fill="none" stroke="#231f20" stroke-width="1.1" stroke-linejoin="round"/>
<line x1="153.00" y1="559.20" x2="183.00" y2="559.20" stroke="#231f20" stroke-width="1.3" stroke-dasharray="6 3" stroke-linecap="butt"/>
<circle cx="165.30" cy="522.90" r="2.90" fill="#808080"/>
<circle cx="170.60" cy="523.70" r="2.90" fill="#808080"/>
<circle cx="170.60" cy="538.40" r="2.90" fill="#808080"/>
<circle cx="175.90" cy="539.70" r="2.90" fill="#808080"/>
<circle cx="165.30" cy="543.70" r="2.90" fill="#808080"/>
<circle cx="165.30" cy="550.30" r="2.90" fill="#808080"/>
<circle cx="155.10" cy="553.00" r="2.90" fill="#808080"/>
<circle cx="155.10" cy="561.00" r="2.90" fill="#808080"/>
<circle cx="160.40" cy="558.30" r="2.90" fill="#808080"/>
<circle cx="165.30" cy="562.70" r="2.90" fill="#808080"/>
<circle cx="170.60" cy="560.50" r="2.90" fill="#808080"/>
<circle cx="175.50" cy="561.40" r="2.90" fill="#808080"/>
<circle cx="180.80" cy="561.00" r="2.90" fill="#808080"/>
<circle cx="170.60" cy="567.60" r="2.90" fill="#808080"/>
<circle cx="165.30" cy="570.70" r="2.90" fill="#808080"/>
<circle cx="260.50" cy="327.00" r="5.20" fill="#f0168c"/>
<text transform="translate(275.30 331.10) scale(0.9 1)" font-size="10.4" fill="#231f20">CoV01</text>
<rect x="255.56" y="344.24" width="9.88" height="9.88" fill="#f0168c"/>
<text transform="translate(275.30 353.28) scale(0.9 1)" font-size="10.4" fill="#231f20">CoV02</text>
<polygon points="260.50,366.21 265.60,375.57 255.40,375.57" fill="#f0168c"/>
<text transform="translate(275.30 375.46) scale(0.9 1)" font-size="10.4" fill="#231f20">CoV08</text>
<polygon points="260.50,398.69 265.60,389.33 255.40,389.33" fill="#f0168c"/>
<text transform="translate(275.30 397.64) scale(0.9 1)" font-size="10.4" fill="#231f20">CoV09</text>
<polygon points="260.50,410.00 266.22,415.72 260.50,421.44 254.78,415.72" fill="#f0168c"/>
<text transform="translate(275.30 419.82) scale(0.9 1)" font-size="10.4" fill="#231f20">CoV12</text>
<polygon points="255.72,437.90 258.11,433.74 262.89,433.74 265.28,437.90 262.89,442.06 258.11,442.06" fill="#f0168c"/>
<text transform="translate(275.30 442.00) scale(0.9 1)" font-size="10.4" fill="#231f20">CoV13</text>
<circle cx="260.50" cy="460.08" r="3.54" fill="none" stroke="#f0168c" stroke-width="3.33"/>
<text transform="translate(275.30 464.18) scale(0.9 1)" font-size="10.4" fill="#231f20">CoV16</text>
<circle cx="260.50" cy="482.26" r="4.70" fill="none" stroke="#f0168c" stroke-width="1.00"/>
<path d="M257.59 479.35L263.41 485.17M263.41 479.35L257.59 485.17" stroke="#f0168c" stroke-width="0.90"/>
<text transform="translate(275.30 486.36) scale(0.9 1)" font-size="10.4" fill="#231f20">CoV17</text>
<circle cx="327.80" cy="327.00" r="5.20" fill="#1e8ffa"/>
<text transform="translate(342.60 331.10) scale(0.9 1)" font-size="10.4" fill="#231f20">CoV03</text>
<rect x="322.86" y="344.24" width="9.88" height="9.88" fill="#1e8ffa"/>
<text transform="translate(342.60 353.28) scale(0.9 1)" font-size="10.4" fill="#231f20">CoV04</text>
<polygon points="327.80,366.21 332.90,375.57 322.70,375.57" fill="#1e8ffa"/>
<text transform="translate(342.60 375.46) scale(0.9 1)" font-size="10.4" fill="#231f20">CoV05</text>
<polygon points="327.80,398.69 332.90,389.33 322.70,389.33" fill="#1e8ffa"/>
<text transform="translate(342.60 397.64) scale(0.9 1)" font-size="10.4" fill="#231f20">CoV06</text>
<polygon points="327.80,410.74 332.78,415.72 327.80,420.70 322.82,415.72" fill="#1e8ffa"/>
<text transform="translate(342.60 419.82) scale(0.9 1)" font-size="10.4" fill="#231f20">CoV07</text>
<polygon points="323.02,437.90 325.41,433.74 330.19,433.74 332.58,437.90 330.19,442.06 325.41,442.06" fill="#1e8ffa"/>
<text transform="translate(342.60 442.00) scale(0.9 1)" font-size="10.4" fill="#231f20">CoV10</text>
<circle cx="327.80" cy="460.08" r="3.54" fill="none" stroke="#1e8ffa" stroke-width="3.33"/>
<text transform="translate(342.60 464.18) scale(0.9 1)" font-size="10.4" fill="#231f20">CoV11</text>
<circle cx="327.80" cy="482.26" r="4.70" fill="none" stroke="#1e8ffa" stroke-width="1.00"/>
<path d="M324.89 479.35L330.71 485.17M330.71 479.35L324.89 485.17" stroke="#1e8ffa" stroke-width="0.90"/>
<text transform="translate(342.60 486.36) scale(0.9 1)" font-size="10.4" fill="#231f20">CoV14</text>
<path d="M322.60 504.44L333.00 504.44M324.12 500.76L331.48 508.12M327.80 499.24L327.80 509.64M331.48 500.76L324.12 508.12" stroke="#1e8ffa" stroke-width="1.00"/>
<text transform="translate(342.60 508.54) scale(0.9 1)" font-size="10.4" fill="#231f20">CoV15</text>
<circle cx="327.80" cy="526.62" r="4.70" fill="none" stroke="#1e8ffa" stroke-width="1.00"/>
<circle cx="327.80" cy="526.62" r="1.35" fill="#1e8ffa"/>
<text transform="translate(342.60 530.72) scale(0.9 1)" font-size="10.4" fill="#231f20">CoV18</text>
<circle cx="397.00" cy="327.20" r="4.85" fill="#808080"/>
<text transform="translate(412.40 330.90) scale(0.98 1)" font-size="9.7" fill="#231f20">HD1</text>
<circle cx="397.00" cy="348.79" r="4.85" fill="#808080"/>
<text transform="translate(412.40 352.49) scale(0.98 1)" font-size="9.7" fill="#231f20">HD2</text>
<circle cx="397.00" cy="370.38" r="4.85" fill="#808080"/>
<text transform="translate(412.40 374.08) scale(0.98 1)" font-size="9.7" fill="#231f20">HD3</text>
<circle cx="397.00" cy="391.97" r="4.85" fill="#808080"/>
<text transform="translate(412.40 395.67) scale(0.98 1)" font-size="9.7" fill="#231f20">HD4</text>
<circle cx="397.00" cy="413.56" r="4.85" fill="#808080"/>
<text transform="translate(412.40 417.26) scale(0.98 1)" font-size="9.7" fill="#231f20">HD5</text>
<circle cx="397.00" cy="435.15" r="4.85" fill="#808080"/>
<text transform="translate(412.40 438.85) scale(0.98 1)" font-size="9.7" fill="#231f20">HD6</text>
<circle cx="397.00" cy="456.74" r="4.85" fill="#808080"/>
<text transform="translate(412.40 460.44) scale(0.98 1)" font-size="9.7" fill="#231f20">HD7</text>
<circle cx="397.00" cy="478.33" r="4.85" fill="#808080"/>
<text transform="translate(412.40 482.03) scale(0.98 1)" font-size="9.7" fill="#231f20">HD8</text>
<circle cx="397.00" cy="499.92" r="4.85" fill="#808080"/>
<text transform="translate(412.40 503.62) scale(0.98 1)" font-size="9.7" fill="#231f20">HD9</text>
<circle cx="397.00" cy="521.51" r="4.85" fill="#808080"/>
<text transform="translate(412.40 525.21) scale(0.98 1)" font-size="9.7" fill="#231f20">HD10</text>
<circle cx="397.00" cy="543.10" r="4.85" fill="#808080"/>
<text transform="translate(412.40 546.80) scale(0.98 1)" font-size="9.7" fill="#231f20">HD11</text>
<circle cx="397.00" cy="564.69" r="4.85" fill="#808080"/>
<text transform="translate(412.40 568.39) scale(0.98 1)" font-size="9.7" fill="#231f20">HD12</text>
<circle cx="397.00" cy="586.28" r="4.85" fill="#808080"/>
<text transform="translate(412.40 589.98) scale(0.98 1)" font-size="9.7" fill="#231f20">HD13</text>
<circle cx="397.00" cy="607.87" r="4.85" fill="#808080"/>
<text transform="translate(412.40 611.57) scale(0.98 1)" font-size="9.7" fill="#231f20">HD14</text>
<circle cx="397.00" cy="629.46" r="4.85" fill="#808080"/>
<text transform="translate(412.40 633.16) scale(0.98 1)" font-size="9.7" fill="#231f20">HD15</text>
<text x="5.60" y="659.00" font-size="23" text-anchor="start" fill="#000" font-weight="bold" >e</text>
<text x="234.60" y="658.80" font-size="23" text-anchor="start" fill="#000" font-weight="bold" >f</text>
<text x="461.00" y="659.20" font-size="23" text-anchor="start" fill="#000" font-weight="bold" >g</text>
<line x1="42.30" y1="680.00" x2="42.30" y2="867.00" stroke="#231f20" stroke-width="1.05" stroke-linecap="butt"/>
<line x1="41.80" y1="866.50" x2="208.80" y2="866.50" stroke="#231f20" stroke-width="1.05" stroke-linecap="butt"/>
<line x1="37.70" y1="866.50" x2="42.30" y2="866.50" stroke="#231f20" stroke-width="1.0" stroke-linecap="butt"/>
<text x="36.30" y="870.10" font-size="10.2" text-anchor="end" fill="#231f20" textLength="5.20" lengthAdjust="spacingAndGlyphs" >0</text>
<line x1="37.70" y1="829.30" x2="42.30" y2="829.30" stroke="#231f20" stroke-width="1.0" stroke-linecap="butt"/>
<text x="36.30" y="832.90" font-size="10.2" text-anchor="end" fill="#231f20" textLength="10.60" lengthAdjust="spacingAndGlyphs" >20</text>
<line x1="37.70" y1="792.10" x2="42.30" y2="792.10" stroke="#231f20" stroke-width="1.0" stroke-linecap="butt"/>
<text x="36.30" y="795.70" font-size="10.2" text-anchor="end" fill="#231f20" textLength="10.60" lengthAdjust="spacingAndGlyphs" >40</text>
<line x1="37.70" y1="754.90" x2="42.30" y2="754.90" stroke="#231f20" stroke-width="1.0" stroke-linecap="butt"/>
<text x="36.30" y="758.50" font-size="10.2" text-anchor="end" fill="#231f20" textLength="10.60" lengthAdjust="spacingAndGlyphs" >60</text>
<line x1="37.70" y1="717.70" x2="42.30" y2="717.70" stroke="#231f20" stroke-width="1.0" stroke-linecap="butt"/>
<text x="36.30" y="721.30" font-size="10.2" text-anchor="end" fill="#231f20" textLength="10.60" lengthAdjust="spacingAndGlyphs" >80</text>
<line x1="37.70" y1="680.50" x2="42.30" y2="680.50" stroke="#231f20" stroke-width="1.0" stroke-linecap="butt"/>
<text x="36.30" y="684.10" font-size="10.2" text-anchor="end" fill="#231f20" textLength="15.60" lengthAdjust="spacingAndGlyphs" >100</text>
<line x1="42.30" y1="866.50" x2="42.30" y2="870.50" stroke="#231f20" stroke-width="1.0" stroke-linecap="butt"/>
<text x="42.90" y="879.90" font-size="9.2" text-anchor="middle" fill="#231f20" textLength="23.50" lengthAdjust="spacingAndGlyphs" >0.000</text>
<line x1="75.50" y1="866.50" x2="75.50" y2="870.50" stroke="#231f20" stroke-width="1.0" stroke-linecap="butt"/>
<text x="76.10" y="879.90" font-size="9.2" text-anchor="middle" fill="#231f20" textLength="23.50" lengthAdjust="spacingAndGlyphs" >0.005</text>
<line x1="108.70" y1="866.50" x2="108.70" y2="870.50" stroke="#231f20" stroke-width="1.0" stroke-linecap="butt"/>
<text x="109.30" y="879.90" font-size="9.2" text-anchor="middle" fill="#231f20" textLength="23.50" lengthAdjust="spacingAndGlyphs" >0.010</text>
<line x1="141.90" y1="866.50" x2="141.90" y2="870.50" stroke="#231f20" stroke-width="1.0" stroke-linecap="butt"/>
<text x="142.50" y="879.90" font-size="9.2" text-anchor="middle" fill="#231f20" textLength="23.50" lengthAdjust="spacingAndGlyphs" >0.015</text>
<line x1="175.10" y1="866.50" x2="175.10" y2="870.50" stroke="#231f20" stroke-width="1.0" stroke-linecap="butt"/>
<text x="175.70" y="879.90" font-size="9.2" text-anchor="middle" fill="#231f20" textLength="23.50" lengthAdjust="spacingAndGlyphs" >0.020</text>
<line x1="208.30" y1="866.50" x2="208.30" y2="870.50" stroke="#231f20" stroke-width="1.0" stroke-linecap="butt"/>
<text x="208.90" y="879.90" font-size="9.2" text-anchor="middle" fill="#231f20" textLength="23.50" lengthAdjust="spacingAndGlyphs" >0.025</text>
<text x="137.05" y="896.10" font-size="10.0" text-anchor="middle" fill="#231f20" textLength="37.60" lengthAdjust="spacingAndGlyphs" >IgG AUC</text>
<text x="16.00" y="774.00" font-size="10.5" text-anchor="middle" fill="#231f20" textLength="99.00" lengthAdjust="spacingAndGlyphs" transform="rotate(-90 16.00 774.00)" >% inhibition RBD:ACE2</text>
<line x1="272.50" y1="680.00" x2="272.50" y2="867.00" stroke="#231f20" stroke-width="1.05" stroke-linecap="butt"/>
<line x1="272.00" y1="866.50" x2="439.00" y2="866.50" stroke="#231f20" stroke-width="1.05" stroke-linecap="butt"/>
<line x1="267.90" y1="866.50" x2="272.50" y2="866.50" stroke="#231f20" stroke-width="1.0" stroke-linecap="butt"/>
<text x="266.50" y="870.10" font-size="10.2" text-anchor="end" fill="#231f20" textLength="5.20" lengthAdjust="spacingAndGlyphs" >0</text>
<line x1="267.90" y1="829.30" x2="272.50" y2="829.30" stroke="#231f20" stroke-width="1.0" stroke-linecap="butt"/>
<text x="266.50" y="832.90" font-size="10.2" text-anchor="end" fill="#231f20" textLength="10.60" lengthAdjust="spacingAndGlyphs" >20</text>
<line x1="267.90" y1="792.10" x2="272.50" y2="792.10" stroke="#231f20" stroke-width="1.0" stroke-linecap="butt"/>
<text x="266.50" y="795.70" font-size="10.2" text-anchor="end" fill="#231f20" textLength="10.60" lengthAdjust="spacingAndGlyphs" >40</text>
<line x1="267.90" y1="754.90" x2="272.50" y2="754.90" stroke="#231f20" stroke-width="1.0" stroke-linecap="butt"/>
<text x="266.50" y="758.50" font-size="10.2" text-anchor="end" fill="#231f20" textLength="10.60" lengthAdjust="spacingAndGlyphs" >60</text>
<line x1="267.90" y1="717.70" x2="272.50" y2="717.70" stroke="#231f20" stroke-width="1.0" stroke-linecap="butt"/>
<text x="266.50" y="721.30" font-size="10.2" text-anchor="end" fill="#231f20" textLength="10.60" lengthAdjust="spacingAndGlyphs" >80</text>
<line x1="267.90" y1="680.50" x2="272.50" y2="680.50" stroke="#231f20" stroke-width="1.0" stroke-linecap="butt"/>
<text x="266.50" y="684.10" font-size="10.2" text-anchor="end" fill="#231f20" textLength="15.60" lengthAdjust="spacingAndGlyphs" >100</text>
<line x1="272.50" y1="866.50" x2="272.50" y2="870.50" stroke="#231f20" stroke-width="1.0" stroke-linecap="butt"/>
<text x="273.10" y="879.90" font-size="9.2" text-anchor="middle" fill="#231f20" textLength="23.50" lengthAdjust="spacingAndGlyphs" >0.000</text>
<line x1="305.70" y1="866.50" x2="305.70" y2="870.50" stroke="#231f20" stroke-width="1.0" stroke-linecap="butt"/>
<text x="306.30" y="879.90" font-size="9.2" text-anchor="middle" fill="#231f20" textLength="23.50" lengthAdjust="spacingAndGlyphs" >0.005</text>
<line x1="338.90" y1="866.50" x2="338.90" y2="870.50" stroke="#231f20" stroke-width="1.0" stroke-linecap="butt"/>
<text x="339.50" y="879.90" font-size="9.2" text-anchor="middle" fill="#231f20" textLength="23.50" lengthAdjust="spacingAndGlyphs" >0.010</text>
<line x1="372.10" y1="866.50" x2="372.10" y2="870.50" stroke="#231f20" stroke-width="1.0" stroke-linecap="butt"/>
<text x="372.70" y="879.90" font-size="9.2" text-anchor="middle" fill="#231f20" textLength="23.50" lengthAdjust="spacingAndGlyphs" >0.015</text>
<line x1="405.30" y1="866.50" x2="405.30" y2="870.50" stroke="#231f20" stroke-width="1.0" stroke-linecap="butt"/>
<text x="405.90" y="879.90" font-size="9.2" text-anchor="middle" fill="#231f20" textLength="23.50" lengthAdjust="spacingAndGlyphs" >0.020</text>
<line x1="438.50" y1="866.50" x2="438.50" y2="870.50" stroke="#231f20" stroke-width="1.0" stroke-linecap="butt"/>
<text x="439.10" y="879.90" font-size="9.2" text-anchor="middle" fill="#231f20" textLength="23.50" lengthAdjust="spacingAndGlyphs" >0.025</text>
<text x="367.85" y="896.10" font-size="10.0" text-anchor="middle" fill="#231f20" textLength="39.40" lengthAdjust="spacingAndGlyphs" >IgM AUC</text>
<text x="246.20" y="774.00" font-size="10.5" text-anchor="middle" fill="#231f20" textLength="99.00" lengthAdjust="spacingAndGlyphs" transform="rotate(-90 246.20 774.00)" >% inhibition RBD:ACE2</text>
<line x1="499.30" y1="680.00" x2="499.30" y2="867.00" stroke="#231f20" stroke-width="1.05" stroke-linecap="butt"/>
<line x1="498.80" y1="866.50" x2="665.80" y2="866.50" stroke="#231f20" stroke-width="1.05" stroke-linecap="butt"/>
<line x1="494.70" y1="866.50" x2="499.30" y2="866.50" stroke="#231f20" stroke-width="1.0" stroke-linecap="butt"/>
<text x="493.30" y="870.10" font-size="10.2" text-anchor="end" fill="#231f20" textLength="5.20" lengthAdjust="spacingAndGlyphs" >0</text>
<line x1="494.70" y1="829.30" x2="499.30" y2="829.30" stroke="#231f20" stroke-width="1.0" stroke-linecap="butt"/>
<text x="493.30" y="832.90" font-size="10.2" text-anchor="end" fill="#231f20" textLength="10.60" lengthAdjust="spacingAndGlyphs" >20</text>
<line x1="494.70" y1="792.10" x2="499.30" y2="792.10" stroke="#231f20" stroke-width="1.0" stroke-linecap="butt"/>
<text x="493.30" y="795.70" font-size="10.2" text-anchor="end" fill="#231f20" textLength="10.60" lengthAdjust="spacingAndGlyphs" >40</text>
<line x1="494.70" y1="754.90" x2="499.30" y2="754.90" stroke="#231f20" stroke-width="1.0" stroke-linecap="butt"/>
<text x="493.30" y="758.50" font-size="10.2" text-anchor="end" fill="#231f20" textLength="10.60" lengthAdjust="spacingAndGlyphs" >60</text>
<line x1="494.70" y1="717.70" x2="499.30" y2="717.70" stroke="#231f20" stroke-width="1.0" stroke-linecap="butt"/>
<text x="493.30" y="721.30" font-size="10.2" text-anchor="end" fill="#231f20" textLength="10.60" lengthAdjust="spacingAndGlyphs" >80</text>
<line x1="494.70" y1="680.50" x2="499.30" y2="680.50" stroke="#231f20" stroke-width="1.0" stroke-linecap="butt"/>
<text x="493.30" y="684.10" font-size="10.2" text-anchor="end" fill="#231f20" textLength="15.60" lengthAdjust="spacingAndGlyphs" >100</text>
<line x1="499.30" y1="866.50" x2="499.30" y2="870.50" stroke="#231f20" stroke-width="1.0" stroke-linecap="butt"/>
<text x="499.90" y="879.90" font-size="9.2" text-anchor="middle" fill="#231f20" textLength="23.50" lengthAdjust="spacingAndGlyphs" >0.000</text>
<line x1="532.50" y1="866.50" x2="532.50" y2="870.50" stroke="#231f20" stroke-width="1.0" stroke-linecap="butt"/>
<text x="533.10" y="879.90" font-size="9.2" text-anchor="middle" fill="#231f20" textLength="23.50" lengthAdjust="spacingAndGlyphs" >0.005</text>
<line x1="565.70" y1="866.50" x2="565.70" y2="870.50" stroke="#231f20" stroke-width="1.0" stroke-linecap="butt"/>
<text x="566.30" y="879.90" font-size="9.2" text-anchor="middle" fill="#231f20" textLength="23.50" lengthAdjust="spacingAndGlyphs" >0.010</text>
<line x1="598.90" y1="866.50" x2="598.90" y2="870.50" stroke="#231f20" stroke-width="1.0" stroke-linecap="butt"/>
<text x="599.50" y="879.90" font-size="9.2" text-anchor="middle" fill="#231f20" textLength="23.50" lengthAdjust="spacingAndGlyphs" >0.015</text>
<line x1="632.10" y1="866.50" x2="632.10" y2="870.50" stroke="#231f20" stroke-width="1.0" stroke-linecap="butt"/>
<text x="632.70" y="879.90" font-size="9.2" text-anchor="middle" fill="#231f20" textLength="23.50" lengthAdjust="spacingAndGlyphs" >0.020</text>
<line x1="665.30" y1="866.50" x2="665.30" y2="870.50" stroke="#231f20" stroke-width="1.0" stroke-linecap="butt"/>
<text x="665.90" y="879.90" font-size="9.2" text-anchor="middle" fill="#231f20" textLength="23.50" lengthAdjust="spacingAndGlyphs" >0.025</text>
<text x="593.65" y="896.10" font-size="10.0" text-anchor="middle" fill="#231f20" textLength="37.20" lengthAdjust="spacingAndGlyphs" >IgA AUC</text>
<text x="473.00" y="774.00" font-size="10.5" text-anchor="middle" fill="#231f20" textLength="99.00" lengthAdjust="spacingAndGlyphs" transform="rotate(-90 473.00 774.00)" >% inhibition RBD:ACE2</text>
<line x1="52.60" y1="866.30" x2="180.50" y2="727.20" stroke="#231f20" stroke-width="1.05" stroke-linecap="butt"/>
<circle cx="46.60" cy="855.80" r="3.45" fill="none" stroke="#231f20" stroke-width="1.1"/>
<circle cx="50.00" cy="856.50" r="3.45" fill="none" stroke="#231f20" stroke-width="1.1"/>
<circle cx="96.50" cy="838.10" r="3.45" fill="none" stroke="#231f20" stroke-width="1.1"/>
<circle cx="103.80" cy="808.80" r="3.45" fill="none" stroke="#231f20" stroke-width="1.1"/>
<circle cx="103.40" cy="817.70" r="3.45" fill="none" stroke="#231f20" stroke-width="1.1"/>
<circle cx="123.10" cy="817.00" r="3.45" fill="none" stroke="#231f20" stroke-width="1.1"/>
<circle cx="122.40" cy="780.90" r="3.45" fill="none" stroke="#231f20" stroke-width="1.1"/>
<circle cx="145.90" cy="774.70" r="3.45" fill="none" stroke="#231f20" stroke-width="1.1"/>
<circle cx="158.10" cy="776.50" r="3.45" fill="none" stroke="#231f20" stroke-width="1.1"/>
<circle cx="160.80" cy="762.10" r="3.45" fill="none" stroke="#231f20" stroke-width="1.1"/>
<circle cx="151.90" cy="745.50" r="3.45" fill="none" stroke="#231f20" stroke-width="1.1"/>
<circle cx="153.40" cy="745.50" r="3.45" fill="none" stroke="#231f20" stroke-width="1.1"/>
<circle cx="161.90" cy="742.10" r="3.45" fill="none" stroke="#231f20" stroke-width="1.1"/>
<circle cx="164.10" cy="747.00" r="3.45" fill="none" stroke="#231f20" stroke-width="1.1"/>
<circle cx="169.60" cy="720.00" r="3.45" fill="none" stroke="#231f20" stroke-width="1.1"/>
<circle cx="170.70" cy="720.00" r="3.45" fill="none" stroke="#231f20" stroke-width="1.1"/>
<circle cx="175.60" cy="726.60" r="3.45" fill="none" stroke="#231f20" stroke-width="1.1"/>
<circle cx="180.30" cy="720.00" r="3.45" fill="none" stroke="#231f20" stroke-width="1.1"/>
<line x1="277.30" y1="792.90" x2="383.70" y2="716.10" stroke="#231f20" stroke-width="1.05" stroke-linecap="butt"/>
<circle cx="281.50" cy="720.00" r="3.45" fill="none" stroke="#231f20" stroke-width="1.1"/>
<circle cx="286.90" cy="720.00" r="3.45" fill="none" stroke="#231f20" stroke-width="1.1"/>
<circle cx="316.70" cy="726.90" r="3.45" fill="none" stroke="#231f20" stroke-width="1.1"/>
<circle cx="350.30" cy="720.00" r="3.45" fill="none" stroke="#231f20" stroke-width="1.1"/>
<circle cx="282.90" cy="745.50" r="3.45" fill="none" stroke="#231f20" stroke-width="1.1"/>
<circle cx="302.60" cy="745.90" r="3.45" fill="none" stroke="#231f20" stroke-width="1.1"/>
<circle cx="323.40" cy="742.60" r="3.45" fill="none" stroke="#231f20" stroke-width="1.1"/>
<circle cx="383.70" cy="746.50" r="3.45" fill="none" stroke="#231f20" stroke-width="1.1"/>
<circle cx="289.20" cy="761.80" r="3.45" fill="none" stroke="#231f20" stroke-width="1.1"/>
<circle cx="287.90" cy="774.90" r="3.45" fill="none" stroke="#231f20" stroke-width="1.1"/>
<circle cx="285.00" cy="781.40" r="3.45" fill="none" stroke="#231f20" stroke-width="1.1"/>
<circle cx="320.90" cy="776.80" r="3.45" fill="none" stroke="#231f20" stroke-width="1.1"/>
<circle cx="289.60" cy="808.60" r="3.45" fill="none" stroke="#231f20" stroke-width="1.1"/>
<circle cx="287.70" cy="817.50" r="3.45" fill="none" stroke="#231f20" stroke-width="1.1"/>
<circle cx="291.50" cy="817.50" r="3.45" fill="none" stroke="#231f20" stroke-width="1.1"/>
<circle cx="280.60" cy="838.00" r="3.45" fill="none" stroke="#231f20" stroke-width="1.1"/>
<circle cx="277.30" cy="856.20" r="3.45" fill="none" stroke="#231f20" stroke-width="1.1"/>
<circle cx="288.60" cy="856.60" r="3.45" fill="none" stroke="#231f20" stroke-width="1.1"/>
<line x1="504.40" y1="796.40" x2="581.20" y2="719.20" stroke="#231f20" stroke-width="1.05" stroke-linecap="butt"/>
<circle cx="515.90" cy="720.00" r="3.45" fill="none" stroke="#231f20" stroke-width="1.1"/>
<circle cx="528.80" cy="720.30" r="3.45" fill="none" stroke="#231f20" stroke-width="1.1"/>
<circle cx="523.90" cy="726.70" r="3.45" fill="none" stroke="#231f20" stroke-width="1.1"/>
<circle cx="563.50" cy="720.00" r="3.45" fill="none" stroke="#231f20" stroke-width="1.1"/>
<circle cx="509.90" cy="745.50" r="3.45" fill="none" stroke="#231f20" stroke-width="1.1"/>
<circle cx="519.50" cy="742.50" r="3.45" fill="none" stroke="#231f20" stroke-width="1.1"/>
<circle cx="528.80" cy="745.90" r="3.45" fill="none" stroke="#231f20" stroke-width="1.1"/>
<circle cx="529.40" cy="745.90" r="3.45" fill="none" stroke="#231f20" stroke-width="1.1"/>
<circle cx="580.90" cy="762.00" r="3.45" fill="none" stroke="#231f20" stroke-width="1.1"/>
<circle cx="511.00" cy="774.30" r="3.45" fill="none" stroke="#231f20" stroke-width="1.1"/>
<circle cx="531.00" cy="776.80" r="3.45" fill="none" stroke="#231f20" stroke-width="1.1"/>
<circle cx="535.40" cy="781.30" r="3.45" fill="none" stroke="#231f20" stroke-width="1.1"/>
<circle cx="514.70" cy="808.80" r="3.45" fill="none" stroke="#231f20" stroke-width="1.1"/>
<circle cx="516.50" cy="817.30" r="3.45" fill="none" stroke="#231f20" stroke-width="1.1"/>
<circle cx="519.50" cy="817.30" r="3.45" fill="none" stroke="#231f20" stroke-width="1.1"/>
<circle cx="511.00" cy="838.00" r="3.45" fill="none" stroke="#231f20" stroke-width="1.1"/>
<circle cx="504.40" cy="856.50" r="3.45" fill="none" stroke="#231f20" stroke-width="1.1"/>
<circle cx="515.20" cy="856.80" r="3.45" fill="none" stroke="#231f20" stroke-width="1.1"/>
<text x="154.60" y="845.60" font-size="9.6" fill="#231f20" textLength="47.5" lengthAdjust="spacingAndGlyphs">r² = 0.9018</text>
<text x="154.60" y="858.10" font-size="9.6" fill="#231f20" textLength="45.6" lengthAdjust="spacingAndGlyphs"><tspan font-style="italic">p</tspan> &lt; 0.0001</text>
<text x="375.20" y="845.60" font-size="9.6" fill="#231f20" textLength="47.5" lengthAdjust="spacingAndGlyphs">r² = 0.1873</text>
<text x="375.20" y="858.10" font-size="9.6" fill="#231f20">ns</text>
<text x="594.80" y="845.60" font-size="9.6" fill="#231f20" textLength="47.5" lengthAdjust="spacingAndGlyphs">r² = 0.1723</text>
<text x="594.80" y="858.10" font-size="9.6" fill="#231f20">ns</text>
</svg>
</body></html>
